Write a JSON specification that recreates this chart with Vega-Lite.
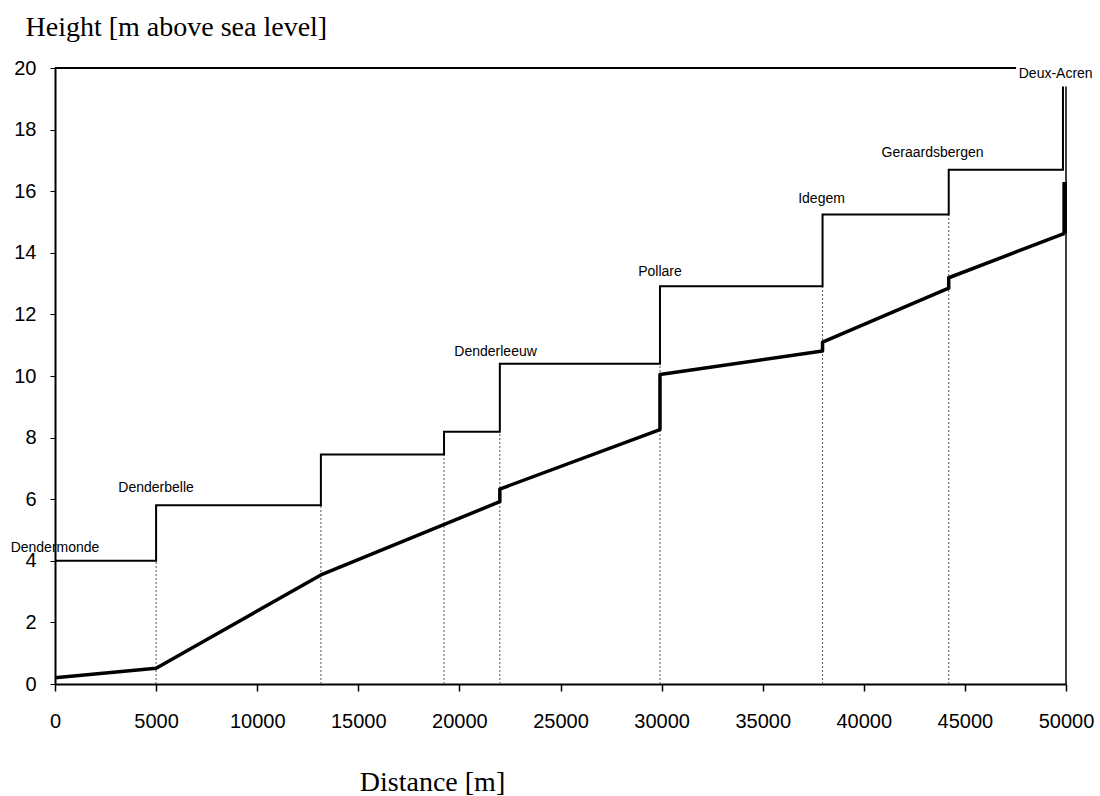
{
  "$schema": "https://vega.github.io/schema/vega-lite/v6.json",
  "width": 1011,
  "height": 616,
  "autosize": {"type": "none"},
  "padding": {"left": 55, "top": 68, "right": 34, "bottom": 112},
  "background": "white",
  "config": {"view": {"stroke": null}, "font": "Liberation Sans"},
  "datasets": {
    "water": [
      {"i": 0, "d": 0, "h": 4.0},
      {"i": 1, "d": 5000, "h": 4.0},
      {"i": 2, "d": 5000, "h": 5.8},
      {"i": 3, "d": 13150, "h": 5.8},
      {"i": 4, "d": 13150, "h": 7.45},
      {"i": 5, "d": 19240, "h": 7.45},
      {"i": 6, "d": 19240, "h": 8.19},
      {"i": 7, "d": 22000, "h": 8.19},
      {"i": 8, "d": 22000, "h": 10.4},
      {"i": 9, "d": 29920, "h": 10.4},
      {"i": 10, "d": 29920, "h": 12.91},
      {"i": 11, "d": 37960, "h": 12.91},
      {"i": 12, "d": 37960, "h": 15.24},
      {"i": 13, "d": 44200, "h": 15.24},
      {"i": 14, "d": 44200, "h": 16.7},
      {"i": 15, "d": 49850, "h": 16.7},
      {"i": 16, "d": 49850, "h": 19.4}
    ],
    "bed": [
      {"i": 0, "d": 0, "h": 0.2},
      {"i": 1, "d": 5000, "h": 0.51},
      {"i": 2, "d": 13150, "h": 3.54},
      {"i": 3, "d": 22000, "h": 5.92},
      {"i": 4, "d": 22000, "h": 6.33},
      {"i": 5, "d": 29920, "h": 8.26},
      {"i": 6, "d": 29920, "h": 10.05},
      {"i": 7, "d": 37960, "h": 10.81},
      {"i": 8, "d": 37960, "h": 11.1},
      {"i": 9, "d": 44200, "h": 12.85},
      {"i": 10, "d": 44200, "h": 13.19},
      {"i": 11, "d": 49930, "h": 14.63}
    ],
    "dots": [
      {"d": 5000, "lo": 0, "hi": 4.0},
      {"d": 13150, "lo": 0, "hi": 5.8},
      {"d": 19240, "lo": 0, "hi": 7.45},
      {"d": 22000, "lo": 0, "hi": 8.19},
      {"d": 29920, "lo": 0, "hi": 10.4},
      {"d": 37960, "lo": 0, "hi": 12.91},
      {"d": 44200, "lo": 0, "hi": 15.24}
    ],
    "labels": [
      {"name": "Dendermonde", "d": 0, "h": 4.42},
      {"name": "Denderbelle", "d": 5000, "h": 6.36},
      {"name": "Denderleeuw", "d": 21790, "h": 10.78},
      {"name": "Pollare", "d": 29920, "h": 13.37},
      {"name": "Idegem", "d": 37910, "h": 15.76},
      {"name": "Geraardsbergen", "d": 43400, "h": 17.23},
      {"name": "Deux-Acren", "d": 49490, "h": 19.82}
    ]
  },
  "layer": [
    {
      "data": {"name": "dots"},
      "mark": {"type": "rule", "stroke": "#555555", "strokeWidth": 1, "strokeDash": [2, 2]},
      "encoding": {
        "x": {"field": "d", "type": "quantitative", "scale": {"domain": [0, 50000], "nice": false},
          "axis": {
            "values": [0, 5000, 10000, 15000, 20000, 25000, 30000, 35000, 40000, 45000, 50000],
            "format": "d", "grid": false, "domainColor": "black", "domainWidth": 2,
            "tickColor": "black", "tickWidth": 1.5, "tickSize": 7, "labelFlush": false,
            "labelFontSize": 20, "labelColor": "black", "labelPadding": 20, "labelFont": "Liberation Sans",
            "title": "Distance [m]", "titleFont": "Liberation Serif", "titleFontSize": 28,
            "titleFontWeight": "normal", "titleColor": "black",
            "titleX": 377, "titleY": 106, "titleAlign": "center", "titleBaseline": "alphabetic"
          }},
        "y": {"field": "lo", "type": "quantitative", "scale": {"domain": [0, 20], "nice": false},
          "axis": {
            "values": [0, 2, 4, 6, 8, 10, 12, 14, 16, 18, 20],
            "grid": false, "domainColor": "black", "domainWidth": 2, "labelFlush": false,
            "tickColor": "black", "tickWidth": 1, "tickSize": 5,
            "labelFontSize": 20, "labelColor": "black", "labelPadding": 14, "labelFont": "Liberation Sans",
            "title": "Height [m above sea level]", "titleFont": "Liberation Serif", "titleFontSize": 28,
            "titleFontWeight": "normal", "titleColor": "black", "titleAngle": 0,
            "titleX": -30, "titleY": -33, "titleAlign": "left", "titleBaseline": "alphabetic"
          }},
        "y2": {"field": "hi"}
      }
    },
    {
      "data": {"values": [{"d": 0, "d2": 47530, "h": 20}]},
      "mark": {"type": "rule", "stroke": "black", "strokeWidth": 2},
      "encoding": {
        "x": {"field": "d", "type": "quantitative"},
        "x2": {"field": "d2"},
        "y": {"field": "h", "type": "quantitative"}
      }
    },
    {
      "data": {"values": [{"d": 50000, "lo": 0, "hi": 19.4}]},
      "mark": {"type": "rule", "stroke": "black", "strokeWidth": 1.5},
      "encoding": {
        "x": {"field": "d", "type": "quantitative"},
        "y": {"field": "lo", "type": "quantitative"},
        "y2": {"field": "hi"}
      }
    },
    {
      "data": {"name": "water"},
      "mark": {"type": "line", "stroke": "black", "strokeWidth": 2},
      "encoding": {
        "x": {"field": "d", "type": "quantitative"},
        "y": {"field": "h", "type": "quantitative"},
        "order": {"field": "i"}
      }
    },
    {
      "data": {"name": "bed"},
      "mark": {"type": "line", "stroke": "black", "strokeWidth": 3.5, "strokeJoin": "round"},
      "encoding": {
        "x": {"field": "d", "type": "quantitative"},
        "y": {"field": "h", "type": "quantitative"},
        "order": {"field": "i"}
      }
    },
    {
      "data": {"values": [{"d": 49930, "lo": 14.63, "hi": 16.3}]},
      "mark": {"type": "rule", "stroke": "black", "strokeWidth": 4.5},
      "encoding": {
        "x": {"field": "d", "type": "quantitative"},
        "y": {"field": "lo", "type": "quantitative"},
        "y2": {"field": "hi"}
      }
    },
    {
      "data": {"name": "labels"},
      "mark": {"type": "text", "font": "Liberation Sans", "fontSize": 14, "color": "black", "align": "center", "baseline": "middle"},
      "encoding": {
        "x": {"field": "d", "type": "quantitative"},
        "y": {"field": "h", "type": "quantitative"},
        "text": {"field": "name"}
      }
    }
  ]
}
